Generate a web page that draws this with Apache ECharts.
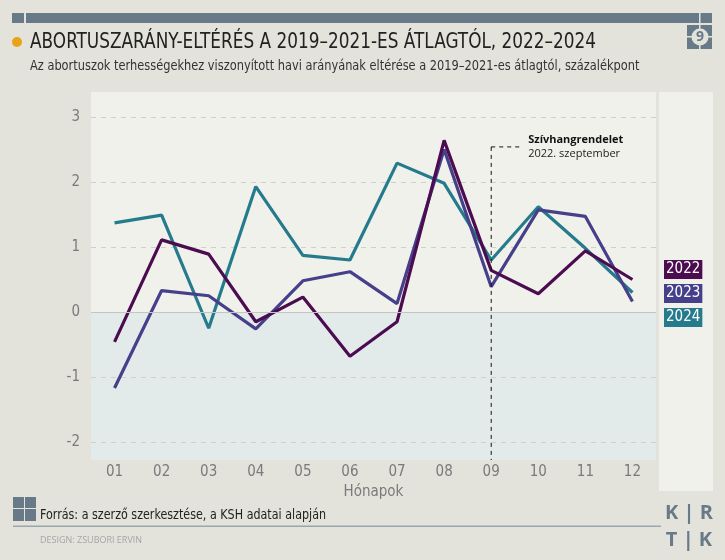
<!DOCTYPE html>
<html>
<head>
<meta charset="utf-8">
<script src="https://cdn.jsdelivr.net/npm/echarts@6/dist/echarts.min.js"></script>
<style>
  html, body { margin: 0; padding: 0; background: #e3e3dc; }
  #chart { width: 725px; height: 560px; }
</style>
</head>
<body>
<div id="chart"></div>
<script>
var months = ['01', '02', '03', '04', '05', '06', '07', '08', '09', '10', '11', '12'];
var years = ['2022', '2023', '2024'];
var v2022 = [-0.46, 1.11, 0.89, -0.15, 0.23, -0.68, -0.15, 2.64, 0.64, 0.28, 0.94, 0.50];
var v2023 = [-1.17, 0.33, 0.25, -0.26, 0.48, 0.62, 0.13, 2.50, 0.39, 1.57, 1.47, 0.16];
var v2024 = [1.37, 1.49, -0.25, 1.93, 0.87, 0.80, 2.29, 1.98, 0.80, 1.62, 0.98, 0.30];
var colors = ['#4b0c50', '#463f8a', '#257b8c'];
var eventMonth = '09';
var eventLevel = 2.54;

var condensed = '"Liberation Sans Narrow", "DejaVu Sans Condensed", sans-serif';
var plain = '"Open Sans", "Noto Sans", sans-serif';
var bg = '#e3e3dc', panel = '#f1f1ec', steel = '#687a88';

var chart = echarts.init(document.getElementById('chart'));

//折线
function lineSeries(name, data, color) {
    return {
        name: name,
        type: 'line',
        data: data,
        showSymbol: false,
        silent: true,
        lineStyle: { width: 3.2, color: color },
        itemStyle: { color: color }
    };
}

var series = [
    lineSeries(years[2], v2024, colors[2]),
    lineSeries(years[1], v2023, colors[1]),
    lineSeries(years[0], v2022, colors[0])
];
series[0].markLine = {
    silent: true,
    symbol: 'none',
    label: { show: false },
    lineStyle: { type: 'solid', color: '#c4c4c4', width: 1 },
    data: [{ yAxis: 0 }]
};

chart.setOption({
    animation: false,
    backgroundColor: bg,
    grid: { left: 91, right: 69, top: 117, bottom: 118 },
    legend: {
        orient: 'vertical',
        left: 654,
        top: 255,
        itemGap: 5,
        itemWidth: 0,
        itemHeight: 0,
        icon: 'rect',
        selectedMode: false,
        data: years.map(function (y, i) {
            return {
                name: y,
                textStyle: {
                    color: '#fff',
                    fontSize: 15,
                    fontFamily: condensed,
                    backgroundColor: colors[i],
                    padding: [2, 2, 2, 2]
                }
            };
        })
    },
    xAxis: {
        type: 'category',
        data: months,
        boundaryGap: true,
        axisLine: { show: false },
        axisTick: { show: false },
        axisLabel: { color: '#7a7a7a', fontSize: 15, fontFamily: condensed, margin: 23 },
        name: 'Hónapok',
        nameLocation: 'middle',
        nameGap: 40,
        nameTextStyle: { color: '#7a7a7a', fontSize: 15, fontFamily: condensed }
    },
    yAxis: {
        type: 'value',
        min: -2,
        max: 3,
        interval: 1,
        axisLine: { show: false },
        axisTick: { show: false },
        axisLabel: { color: '#7a7a7a', fontSize: 15, fontFamily: condensed, margin: 11 },
        splitLine: { lineStyle: { type: [5, 5], color: '#cfcfcf' } }
    },
    series: series
});

//版面装饰
var x9 = chart.convertToPixel({ xAxisIndex: 0 }, eventMonth);
var y0 = chart.convertToPixel({ yAxisIndex: 0 }, 0);
var yEv = chart.convertToPixel({ yAxisIndex: 0 }, eventLevel);

chart.setOption({
    graphic: [
        // header bar
        { type: 'rect', z: -5, shape: { x: 12, y: 13, width: 700, height: 10 }, style: { fill: steel } },
        { type: 'rect', z: -4, shape: { x: 24, y: 13, width: 2, height: 10 }, style: { fill: bg } },
        { type: 'rect', z: -5, shape: { x: 687, y: 25, width: 25, height: 24 }, style: { fill: steel } },
        { type: 'rect', z: -4, shape: { x: 699, y: 13, width: 1.5, height: 36 }, style: { fill: bg } },
        { type: 'rect', z: -4, shape: { x: 687, y: 36, width: 25, height: 1.5 }, style: { fill: bg } },
        { type: 'circle', z: -3, shape: { cx: 700, cy: 37, r: 8.5 }, style: { fill: bg } },
        { type: 'text', z: -2, x: 700, y: 37, style: { text: '9', fill: steel, font: 'bold 14px ' + plain, align: 'center', verticalAlign: 'middle' } },
        // title
        { type: 'circle', shape: { cx: 17, cy: 42, r: 5 }, style: { fill: '#e8a317' } },
        { type: 'text', x: 30, y: 43, scaleX: 0.895, style: { text: 'ABORTUSZARÁNY-ELTÉRÉS A 2019–2021-ES ÁTLAGTÓL, 2022–2024', fill: '#222', font: '21px ' + condensed, verticalAlign: 'middle' } },
        { type: 'text', x: 30, y: 66, scaleX: 0.905, style: { text: 'Az abortuszok terhességekhez viszonyított havi arányának eltérése a 2019–2021-es átlagtól, százalékpont', fill: '#333', font: '14px ' + condensed, verticalAlign: 'middle' } },
        // panels
        { type: 'rect', z: -10, shape: { x: 91, y: 92, width: 565, height: 368 }, style: { fill: panel } },
        { type: 'rect', z: -9, shape: { x: 91, y: y0, width: 565, height: 460 - y0 }, style: { fill: '#e3eaea' } },
        { type: 'rect', z: -10, shape: { x: 659, y: 92, width: 54, height: 399 }, style: { fill: panel } },
        // annotation
        { type: 'line', z: 10, shape: { x1: x9, y1: yEv, x2: x9, y2: 460 }, style: { stroke: '#111', lineWidth: 1, lineDash: [4, 4] } },
        { type: 'line', z: 10, shape: { x1: x9, y1: yEv, x2: x9 + 30, y2: yEv }, style: { stroke: '#111', lineWidth: 1, lineDash: [4, 4] } },
        { type: 'text', z: 10, x: x9 + 37, y: yEv - 7, style: { text: 'Szívhangrendelet', fill: '#111', font: 'bold 11px ' + plain, verticalAlign: 'middle' } },
        { type: 'text', z: 10, x: x9 + 37, y: yEv + 7, style: { text: '2022. szeptember', fill: '#222', font: '11px ' + plain, verticalAlign: 'middle' } },
        // footer
        { type: 'rect', shape: { x: 13, y: 497, width: 11, height: 11 }, style: { fill: steel } },
        { type: 'rect', shape: { x: 25, y: 497, width: 11, height: 11 }, style: { fill: steel } },
        { type: 'rect', shape: { x: 13, y: 509, width: 11, height: 12 }, style: { fill: steel } },
        { type: 'rect', shape: { x: 25, y: 509, width: 11, height: 12 }, style: { fill: steel } },
        { type: 'text', x: 40, y: 515, scaleX: 0.885, style: { text: 'Forrás: a szerző szerkesztése, a KSH adatai alapján', fill: '#222', font: '14px ' + condensed, verticalAlign: 'middle' } },
        { type: 'rect', shape: { x: 13, y: 525.5, width: 648, height: 1.5 }, style: { fill: '#9aa6ae' } },
        { type: 'text', x: 40, y: 540, style: { text: 'DESIGN: ZSUBORI ERVIN', fill: '#a5a5a5', font: '9px ' + plain, verticalAlign: 'middle' } },
        // logo
        { type: 'text', x: 689, y: 513, style: { text: 'K | R', fill: steel, font: 'bold 20px ' + plain, align: 'center', verticalAlign: 'middle' } },
        { type: 'text', x: 689, y: 540, style: { text: 'T | K', fill: steel, font: 'bold 20px ' + plain, align: 'center', verticalAlign: 'middle' } }
    ]
});
</script>
</body>
</html>
